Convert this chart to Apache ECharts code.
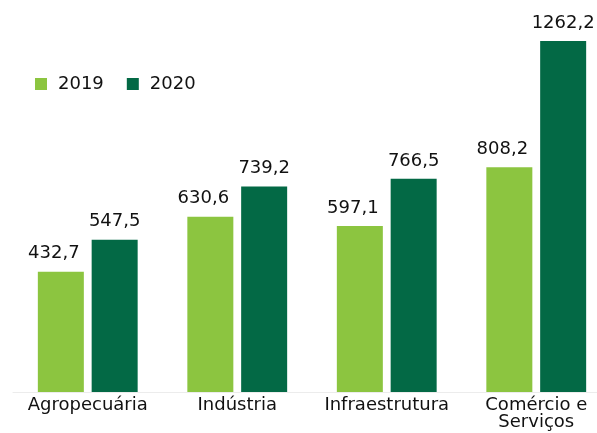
<!DOCTYPE html>
<html>
<head>
<meta charset="utf-8">
<script src="https://cdn.jsdelivr.net/npm/echarts@6/dist/echarts.min.js"></script>
<style>
html, body { margin: 0; padding: 0; background: #fff; overflow: hidden; }
#chart { width: 611px; height: 433px; }
</style>
</head>
<body>
<div id="chart"></div>
<script>
const categories = ['Agropecuária', 'Indústria', 'Infraestrutura', 'Comércio e\nServiços']
const values2019 = [432.7, 630.6, 597.1, 808.2]
const values2020 = [547.5, 739.2, 766.5, 1262.2]
const seriesNames = ['2019', '2020']

const fmt = (p) => p.value.toFixed(1).replace('.', ',')

const chart = echarts.init(document.getElementById('chart'))
chart.setOption({
    animation: false,
    color: ['#8cc540', '#036945'],
    legend: {
        left: 30,
        top: 70,
        itemWidth: 12,
        itemHeight: 12,
        itemGap: 23,
        icon: 'rect',
        data: seriesNames,
        textStyle: {
            fontFamily: 'DejaVu Sans',
            fontSize: 18,
            color: '#111',
            padding: [0, 0, 0, 6]
        }
    },
    grid: {
        left: 13,
        right: 0,
        top: 41,
        bottom: 41,
        containLabel: false
    },
    xAxis: {
        type: 'category',
        data: categories,
        axisTick: { show: false },
        axisLine: { lineStyle: { color: '#ececec', width: 1 } },
        axisLabel: {
            interval: 0,
            margin: 5,
            fontFamily: 'DejaVu Sans',
            fontSize: 18,
            lineHeight: 17,
            color: '#111'
        }
    },
    yAxis: {
        type: 'value',
        min: 0,
        max: 1262.2,
        show: false,
        splitLine: { show: false }
    },
    series: [
        {
            name: seriesNames[0],
            type: 'bar',
            data: values2019,
            barWidth: 46,
            barGap: '17%',
            label: {
                show: true,
                position: 'top',
                distance: 9,
                offset: [-7, 0],
                formatter: fmt,
                fontFamily: 'DejaVu Sans',
                fontSize: 18,
                color: '#111'
            }
        },
        {
            name: seriesNames[1],
            type: 'bar',
            data: values2020,
            barWidth: 46,
            label: {
                show: true,
                position: 'top',
                distance: 9,
                formatter: fmt,
                fontFamily: 'DejaVu Sans',
                fontSize: 18,
                color: '#111'
            }
        }
    ]
})
</script>
</body>
</html>
